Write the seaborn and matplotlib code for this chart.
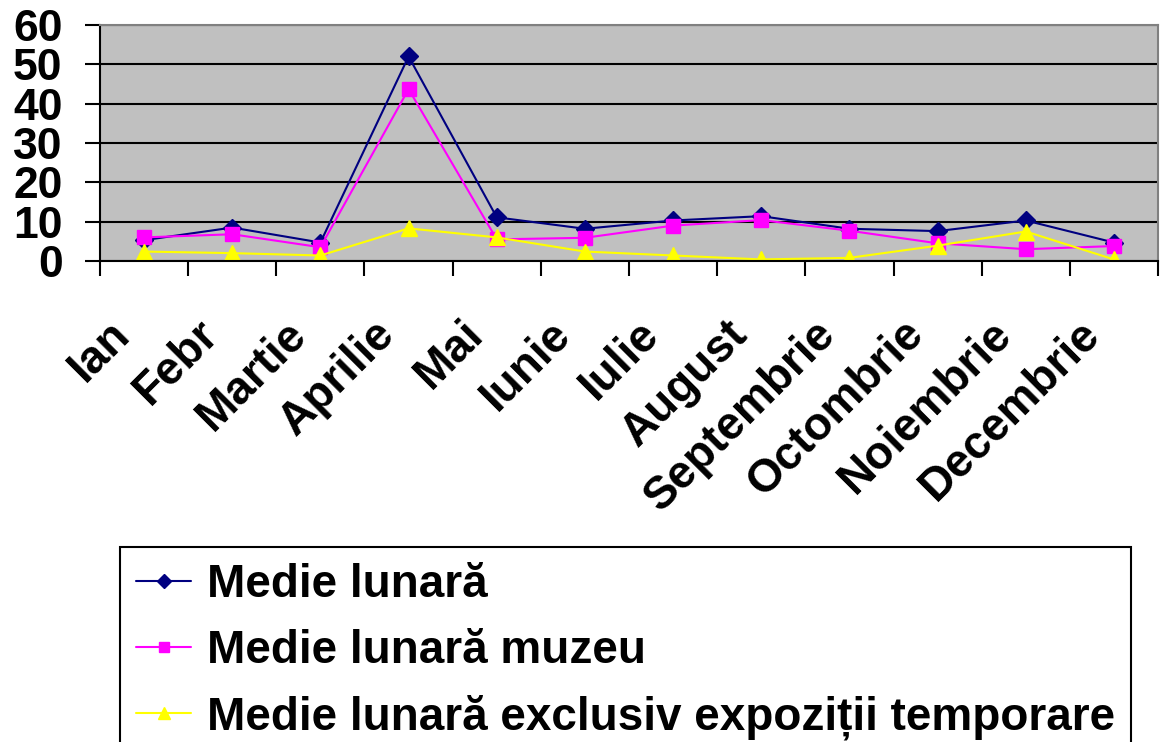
import numpy as np
import pandas as pd
import matplotlib
matplotlib.use('Agg')
import matplotlib.pyplot as plt
import matplotlib.transforms as mtransforms
import seaborn as sns

# date
luni = ['Ian', 'Febr', 'Martie', 'Aprilie', 'Mai', 'Iunie', 'Iulie',
        'August', 'Septembrie', 'Octombrie', 'Noiembrie', 'Decembrie']
medie_lunara = [5.3, 8.5, 4.7, 52.0, 11.1, 8.2, 10.3, 11.4, 8.2, 7.6, 10.3, 4.7]
medie_muzeu = [6.0, 6.8, 3.5, 43.7, 5.5, 5.9, 9.0, 10.4, 7.7, 4.5, 3.0, 3.8]
medie_temporare = [2.4, 2.0, 1.4, 8.3, 6.0, 2.4, 1.4, 0.4, 0.8, 3.9, 7.5, 0.4]

serii = ['Medie lunară', 'Medie lunară muzeu',
         'Medie lunară exclusiv expoziții temporare']
culori = {serii[0]: '#000080', serii[1]: '#FF00FF', serii[2]: '#FFFF00'}
markere = {serii[0]: 'D', serii[1]: 's', serii[2]: '^'}
marimi = {serii[0]: 9.5, serii[1]: 10, serii[2]: 11}

df = pd.DataFrame({
    'luna': list(range(len(luni))) * 3,
    'valoare': medie_lunara + medie_muzeu + medie_temporare,
    'serie': np.repeat(serii, len(luni)),
})

sns.set_style('white')
plt.rcParams['font.family'] = ['Liberation Sans', 'DejaVu Sans']
plt.rcParams['font.weight'] = 'bold'
plt.rcParams['text.color'] = 'black'
plt.rcParams['xtick.color'] = 'black'
plt.rcParams['ytick.color'] = 'black'

fig = plt.figure(figsize=(11.62, 7.42), dpi=100)
ax = fig.add_axes([100 / 1162, 1 - 261 / 742, 1058 / 1162, 236 / 742])
ax.set_facecolor('#C0C0C0')

sns.lineplot(data=df, x='luna', y='valoare', hue='serie', style='serie',
             hue_order=serii, style_order=serii, palette=culori,
             markers=markere, dashes=False, linewidth=1.5, ax=ax, legend=False)

# markerii fara contur alb
linii = {}
for line in ax.lines:
    for s in serii:
        if matplotlib.colors.same_color(line.get_color(), culori[s]):
            line.set_markeredgecolor(culori[s])
            line.set_markerfacecolor(culori[s])
            line.set_markersize(marimi[s])
            line.set_markeredgewidth(1)
            linii[s] = line

ax.set_xlabel('')
ax.set_ylabel('')
ax.set_ylim(0, 60)
ax.set_xlim(-0.5, len(luni) - 0.5)
ax.set_yticks(range(0, 61, 10))
ax.set_xticks(np.arange(-0.5, len(luni), 1))
ax.set_xticklabels([])
ax.set_xticks(range(len(luni)), minor=True)
ax.set_xticklabels(luni, minor=True, rotation=45, ha='right', va='top',
                   rotation_mode='anchor', fontsize=33, fontweight='bold',
                   color='black')

ax.tick_params(axis='both', which='major', direction='out', length=11,
               width=1.5, color='black', bottom=True, left=True)
ax.tick_params(axis='y', labelsize=32, pad=16, labelcolor='black')
ax.tick_params(axis='x', which='minor', length=0, pad=0, bottom=True)

for tick in ax.xaxis.get_minor_ticks():
    tick.label1.set_transform(tick.label1.get_transform() +
                              mtransforms.ScaledTranslation(-0.36, -0.51, fig.dpi_scale_trans))

ax.grid(axis='y', color='black', linewidth=1.5)
ax.grid(axis='x', visible=False)
ax.set_axisbelow(True)
for side in ['left', 'bottom']:
    ax.spines[side].set_color('black')
    ax.spines[side].set_linewidth(1.5)
for side in ['top', 'right']:
    ax.spines[side].set_color('#808080')
    ax.spines[side].set_linewidth(1.5)

leg = fig.legend([linii[s] for s in serii], serii, loc='upper left',
                 bbox_to_anchor=(120 / 1162, 1 - 547 / 742),
                 frameon=True, fancybox=False, edgecolor='black', framealpha=1,
                 prop={'weight': 'bold', 'size': 33}, handlelength=1.2,
                 handletextpad=0.35, borderpad=0.35, labelspacing=0.47,
                 borderaxespad=0, numpoints=1, markerscale=0.75)
leg.get_frame().set_linewidth(1.5)
for txt in leg.get_texts():
    txt.set_color('black')

fig.savefig('out.png', dpi=100)
